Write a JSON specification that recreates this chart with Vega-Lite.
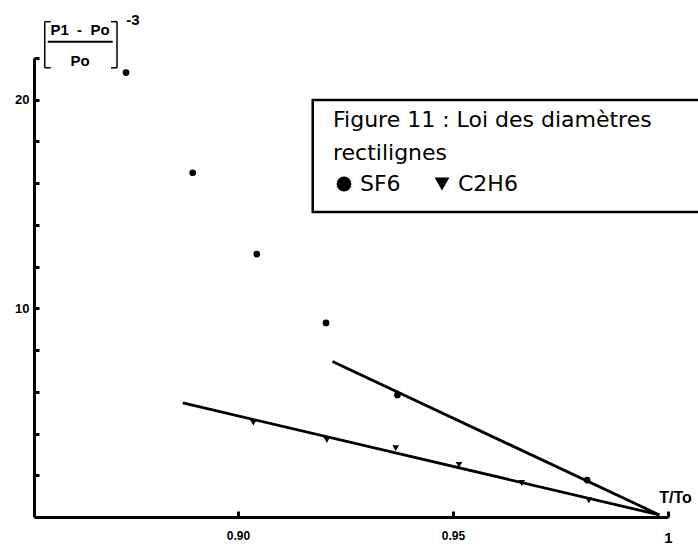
{
  "$schema": "https://vega.github.io/schema/vega-lite/v6.json",
  "width": 634,
  "height": 459,
  "autosize": {"type": "none"},
  "padding": {"left": 34, "top": 58, "right": 30, "bottom": 35},
  "background": "white",
  "config": {
    "view": {"stroke": null},
    "axis": {"grid": false, "domainColor": "black", "tickColor": "black", "labelColor": "black", "titleColor": "black", "labelFont": "Liberation Sans", "labelFontWeight": "bold"}
  },
  "datasets": {
    "fits": [
      {"series": "upper", "t": 0.922, "v": 7.45},
      {"series": "upper", "t": 0.998, "v": 0.1},
      {"series": "lower", "t": 0.8872, "v": 5.47},
      {"series": "lower", "t": 0.998, "v": 0.1}
    ],
    "points": [
      {"gas": "SF6", "t": 0.874, "v": 21.3},
      {"gas": "SF6", "t": 0.8895, "v": 16.5},
      {"gas": "SF6", "t": 0.9044, "v": 12.6},
      {"gas": "SF6", "t": 0.9205, "v": 9.3},
      {"gas": "SF6", "t": 0.9371, "v": 5.85},
      {"gas": "SF6", "t": 0.9812, "v": 1.77},
      {"gas": "C2H6", "t": 0.9036, "v": 4.52},
      {"gas": "C2H6", "t": 0.9207, "v": 3.69},
      {"gas": "C2H6", "t": 0.9367, "v": 3.3},
      {"gas": "C2H6", "t": 0.9514, "v": 2.5},
      {"gas": "C2H6", "t": 0.966, "v": 1.63},
      {"gas": "C2H6", "t": 0.9816, "v": 0.8}
    ]
  },
  "layer": [
    {
      "data": {"values": [{}]},
      "mark": {"type": "rect", "fill": "white", "stroke": "black", "strokeWidth": 2.5},
      "encoding": {"x": {"datum": 0.9174}, "x2": {"datum": 1.05}, "y": {"datum": 19.99}, "y2": {"datum": 14.62}}
    },
    {
      "data": {"name": "fits"},
      "mark": {"type": "line", "color": "black", "strokeWidth": 2.8},
      "encoding": {
        "x": {
          "field": "t", "type": "quantitative",
          "scale": {"domain": [0.8526, 1.0], "nice": false, "zero": false},
          "axis": {
            "values": [0.9, 0.95, 1],
            "labelExpr": "datum.value == 1 ? '1' : format(datum.value, '.2f')",
            "tickSize": -6, "tickWidth": 3, "domainWidth": 3,
            "labelFontSize": {"condition": {"test": "datum.value == 1", "value": 15}, "value": 12},
            "labelPadding": 19, "labelFlush": false, "labelOverlap": false,
            "title": "T/To", "titleX": 641, "titleY": -12, "titleFontSize": 16,
            "titleFont": "Liberation Sans", "titleFontWeight": "bold", "titleAngle": 0,
            "titleAlign": "center", "titleBaseline": "bottom"
          }
        },
        "y": {
          "field": "v", "type": "quantitative",
          "scale": {"domain": [0, 22], "nice": false},
          "axis": {
            "values": [2, 4, 6, 8, 10, 12, 14, 16, 18, 20, 22],
            "labelExpr": "datum.value == 10 || datum.value == 20 ? datum.label : ''",
            "tickSize": -5, "tickWidth": 3, "domainWidth": 3,
            "labelFontSize": 13, "labelPadding": 10, "title": null
          }
        },
        "detail": {"field": "series"}
      }
    },
    {
      "data": {"name": "points"},
      "mark": {"type": "point", "filled": true, "color": "black", "opacity": 1, "size": 45},
      "encoding": {
        "x": {"field": "t", "type": "quantitative"},
        "y": {"field": "v", "type": "quantitative"},
        "shape": {
          "field": "gas", "type": "nominal",
          "scale": {"domain": ["SF6", "C2H6"], "range": ["circle", "triangle-down"]},
          "legend": {
            "orient": "none", "legendX": 299, "legendY": 52, "direction": "horizontal",
            "title": ["Figure 11 : Loi des diamètres", "rectilignes"],
            "titleFont": "DejaVu Sans", "titleFontSize": 22, "titleFontWeight": "normal",
            "titleLineHeight": 33, "titleLimit": 0, "titleColor": "black", "titlePadding": 8,
            "labelFont": "DejaVu Sans", "labelFontSize": 22, "labelColor": "black", "labelOffset": 5,
            "symbolSize": 220, "symbolFillColor": "black", "symbolStrokeColor": "black",
            "padding": 0, "columnPadding": 30
          }
        }
      }
    },
    {
      "data": {"values": [{}]},
      "mark": {"type": "text", "font": "Liberation Sans", "fontWeight": "bold", "fontSize": 15, "align": "center", "baseline": "middle"},
      "encoding": {"x": {"datum": 0.8633}, "y": {"datum": 23.36}, "text": {"value": "P1\u00a0\u00a0-\u00a0\u00a0Po"}}
    },
    {
      "data": {"values": [{}]},
      "mark": {"type": "text", "font": "Liberation Sans", "fontWeight": "bold", "fontSize": 15, "align": "center", "baseline": "middle"},
      "encoding": {"x": {"datum": 0.8633}, "y": {"datum": 21.87}, "text": {"value": "Po"}}
    },
    {
      "data": {"values": [{}]},
      "mark": {"type": "text", "font": "Liberation Sans", "fontWeight": "bold", "fontSize": 15, "align": "center", "baseline": "middle"},
      "encoding": {"x": {"datum": 0.8756}, "y": {"datum": 23.84}, "text": {"value": "-3"}}
    },
    {
      "data": {"values": [{}]},
      "mark": {"type": "rule", "color": "black", "strokeWidth": 2},
      "encoding": {"x": {"datum": 0.8558}, "x2": {"datum": 0.8709}, "y": {"datum": 22.78}}
    },
    {
      "data": {"values": [{}]},
      "mark": {"type": "rule", "color": "black", "strokeWidth": 1.5},
      "encoding": {"x": {"datum": 0.8551}, "y": {"datum": 23.74}, "y2": {"datum": 21.53}}
    },
    {
      "data": {"values": [{}]},
      "mark": {"type": "rule", "color": "black", "strokeWidth": 1.5},
      "encoding": {"x": {"datum": 0.8551}, "x2": {"datum": 0.8565}, "y": {"datum": 23.74}}
    },
    {
      "data": {"values": [{}]},
      "mark": {"type": "rule", "color": "black", "strokeWidth": 1.5},
      "encoding": {"x": {"datum": 0.8551}, "x2": {"datum": 0.8565}, "y": {"datum": 21.53}}
    },
    {
      "data": {"values": [{}]},
      "mark": {"type": "rule", "color": "black", "strokeWidth": 1.5},
      "encoding": {"x": {"datum": 0.8719}, "y": {"datum": 23.74}, "y2": {"datum": 21.53}}
    },
    {
      "data": {"values": [{}]},
      "mark": {"type": "rule", "color": "black", "strokeWidth": 1.5},
      "encoding": {"x": {"datum": 0.8705}, "x2": {"datum": 0.8719}, "y": {"datum": 23.74}}
    },
    {
      "data": {"values": [{}]},
      "mark": {"type": "rule", "color": "black", "strokeWidth": 1.5},
      "encoding": {"x": {"datum": 0.8705}, "x2": {"datum": 0.8719}, "y": {"datum": 21.53}}
    }
  ]
}
